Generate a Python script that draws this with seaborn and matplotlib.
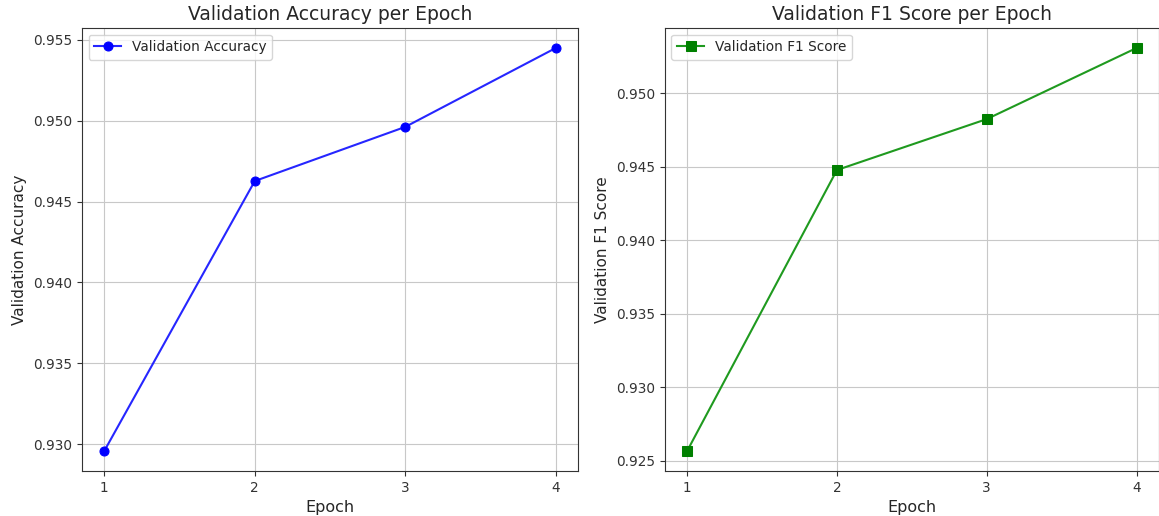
import matplotlib
matplotlib.use("Agg")
import matplotlib.pyplot as plt
import seaborn as sns
import pandas as pd

epochs = [1, 2, 3, 4]
val_accuracy = [0.92957, 0.94627, 0.94962, 0.95450]
val_f1 = [0.92568, 0.94477, 0.94823, 0.95306]

df = pd.DataFrame({"Epoch": epochs, "Accuracy": val_accuracy, "F1": val_f1})

plt.rcParams.update({
    "text.color": "#262626",
    "axes.labelcolor": "#262626",
    "xtick.color": "#333333",
    "ytick.color": "#333333",
    "axes.edgecolor": "#333333",
    "grid.color": "#c8c8c8",
})

fig, (ax1, ax2) = plt.subplots(1, 2, figsize=(11.59, 5.16), dpi=100)
ax1.set_position([0.0705, 0.087, 0.4285, 0.946 - 0.087])
ax2.set_position([0.5735, 0.087, 0.4265, 0.946 - 0.087])

# accuracy
sns.lineplot(data=df, x="Epoch", y="Accuracy", ax=ax1, color="#2626ff", marker="o",
             markersize=6.5, markerfacecolor="b", markeredgecolor="b", linewidth=1.5,
             label="Validation Accuracy")
ax1.set_title("Validation Accuracy per Epoch", fontsize=13.5)
ax1.set_xlabel("Epoch", fontsize=11.5)
ax1.set_ylabel("Validation Accuracy", fontsize=11)
ax1.set_xticks(epochs)
ax1.tick_params(labelsize=9.8)
ax1.grid(True)
ax1.legend(loc="upper left", fontsize=9.8)

# f1
sns.lineplot(data=df, x="Epoch", y="F1", ax=ax2, color="#1f9a1f", marker="s",
             markersize=6.5, markerfacecolor="g", markeredgecolor="g", linewidth=1.5,
             label="Validation F1 Score")
ax2.set_title("Validation F1 Score per Epoch", fontsize=13.5)
ax2.set_xlabel("Epoch", fontsize=11.5)
ax2.set_ylabel("Validation F1 Score", fontsize=11)
ax2.set_xticks(epochs)
ax2.tick_params(labelsize=9.8)
ax2.grid(True)
ax2.legend(loc="upper left", fontsize=9.8)

plt.savefig("out.png", dpi=100)
